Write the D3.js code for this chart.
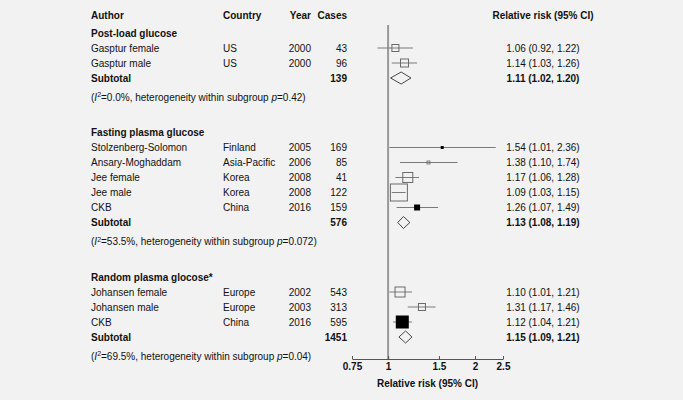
<!DOCTYPE html>
<html><head><meta charset="utf-8">
<script src="https://cdn.jsdelivr.net/npm/d3@7"></script>
<style>
html,body{margin:0;padding:0;background:#f2f2f2;}
svg{display:block;font-family:"Liberation Sans",Arial,sans-serif;}
</style></head>
<body>
<svg id="chart" width="683" height="400"></svg>
<script>
// ---- data ----
const groupNames = ["Post-load glucose", "Fasting plasma glucose", "Random plasma glocose*"];
const groupCases = [139, 576, 1451];
const groupEst = [1.11, 1.13, 1.15];
const groupLo = [1.02, 1.08, 1.09];
const groupHi = [1.20, 1.19, 1.21];
const groupI2 = ["0.0", "53.5", "69.5"];
const groupP = ["0.42", "0.072", "0.04"];

const studyGroup = [0, 0, 1, 1, 1, 1, 1, 2, 2, 2];
const authors = ["Gasptur female", "Gasptur male", "Stolzenberg-Solomon", "Ansary-Moghaddam", "Jee female", "Jee male", "CKB", "Johansen female", "Johansen male", "CKB"];
const countries = ["US", "US", "Finland", "Asia-Pacific", "Korea", "Korea", "China", "Europe", "Europe", "China"];
const years = [2000, 2000, 2005, 2006, 2008, 2008, 2016, 2002, 2003, 2016];
const cases = [43, 96, 169, 85, 41, 122, 159, 543, 313, 595];
const est = [1.06, 1.14, 1.54, 1.38, 1.17, 1.09, 1.26, 1.10, 1.31, 1.12];
const lo = [0.92, 1.03, 1.01, 1.10, 1.06, 1.03, 1.07, 1.01, 1.17, 1.04];
const hi = [1.22, 1.26, 2.36, 1.74, 1.28, 1.15, 1.49, 1.21, 1.46, 1.21];
const weights = [4.9, 6.4, 0.4, 0.9, 10, 28.9, 2.5, 10, 4.9, 14.4];
const filled = [false, false, true, false, false, false, true, false, false, true];
const tickValues = [0.75, 1, 1.5, 2, 2.5];

// ---- layout ----
const svg = d3.select("#chart");
const x = d3.scaleLog().domain([0.75, 2.5]).range([352, 503]);
const side = d3.scaleSqrt().domain([0, d3.max(weights)]).range([0, 17]);
const fmt = d3.format(".2f");
const colAuthor = 91, colCountry = 223, colYear = 311, colCases = 347, colRR = 543;
const fs = 10;

function txt(g, xx, yy, s, opts = {}) {
  return g.append("text").attr("x", xx).attr("y", yy).attr("dy", "0.35em")
    .attr("font-size", fs).attr("fill", "#111")
    .attr("font-weight", opts.bold ? "bold" : null)
    .attr("text-anchor", opts.anchor || "start").text(s);
}

// build rows with y positions
const rows = [];
let y = 15;
rows.push({type: "colhead", y});
groupNames.forEach((gname, gi) => {
  y += gi === 0 ? 18 : 35.5;
  rows.push({type: "ghead", gi, y});
  studyGroup.forEach((sg, i) => {
    if (sg === gi) { y += 15; rows.push({type: "study", i, y}); }
  });
  y += 15; rows.push({type: "sub", gi, y});
  y += 19; rows.push({type: "note", gi, y});
});

const g = svg.append("g");
const axisY = 359;

// reference line at 1
g.append("line").attr("x1", x(1)).attr("x2", x(1)).attr("y1", 25).attr("y2", axisY)
  .attr("stroke", "#9a9a9a").attr("stroke-width", 2);

rows.forEach(r => {
  if (r.type === "colhead") {
    txt(g, colAuthor, r.y, "Author", {bold: true});
    txt(g, colCountry, r.y, "Country", {bold: true});
    txt(g, colYear, r.y, "Year", {bold: true, anchor: "end"});
    txt(g, colCases, r.y, "Cases", {bold: true, anchor: "end"});
    txt(g, colRR, r.y, "Relative risk (95% CI)", {bold: true, anchor: "middle"});
  } else if (r.type === "ghead") {
    txt(g, colAuthor, r.y, groupNames[r.gi], {bold: true});
  } else if (r.type === "study") {
    const i = r.i;
    txt(g, colAuthor, r.y, authors[i]);
    txt(g, colCountry, r.y, countries[i]);
    txt(g, colYear, r.y, years[i], {anchor: "end"});
    txt(g, colCases, r.y, cases[i], {anchor: "end"});
    txt(g, colRR, r.y, `${fmt(est[i])} (${fmt(lo[i])}, ${fmt(hi[i])})`, {anchor: "middle"});
    g.append("line").attr("x1", x(lo[i])).attr("x2", x(hi[i])).attr("y1", r.y).attr("y2", r.y)
      .attr("stroke", "#7a7a7a").attr("stroke-width", 1);
    const s = side(weights[i]);
    if (filled[i]) {
      const sf = Math.max(s + 1, 2);
      g.append("rect").attr("x", x(est[i]) - sf / 2).attr("y", r.y - sf / 2)
        .attr("width", sf).attr("height", sf).attr("fill", "#000");
    } else {
      const sh = Math.max(s, 2.5);
      g.append("rect").attr("x", x(est[i]) - sh / 2).attr("y", r.y - sh / 2)
        .attr("width", sh).attr("height", sh)
        .attr("fill", "none").attr("stroke", "#6a6a6a").attr("stroke-width", sh < 4 ? 0.8 : 1);
    }
  } else if (r.type === "sub") {
    const gi = r.gi;
    txt(g, colAuthor, r.y, "Subtotal", {bold: true});
    txt(g, colCases, r.y, groupCases[gi], {bold: true, anchor: "end"});
    txt(g, colRR, r.y, `${fmt(groupEst[gi])} (${fmt(groupLo[gi])}, ${fmt(groupHi[gi])})`, {bold: true, anchor: "middle"});
    const h = 6;
    const pts = [[x(groupLo[gi]), r.y], [x(groupEst[gi]), r.y - h], [x(groupHi[gi]), r.y], [x(groupEst[gi]), r.y + h]];
    g.append("path").attr("d", "M" + pts.join("L") + "Z")
      .attr("fill", "none").attr("stroke", "#333").attr("stroke-width", 0.9);
  } else if (r.type === "note") {
    const gi = r.gi;
    const t = g.append("text").attr("x", colAuthor).attr("y", r.y).attr("dy", "0.35em")
      .attr("font-size", fs).attr("fill", "#111");
    t.append("tspan").text("(");
    t.append("tspan").attr("font-style", "italic").text("I");
    t.append("tspan").attr("font-size", 7).attr("dy", "-0.45em").text("2");
    t.append("tspan").attr("dy", "0.32em").text(`=${groupI2[gi]}%, heterogeneity within subgroup `);
    t.append("tspan").attr("font-style", "italic").text("p");
    t.append("tspan").text(`=${groupP[gi]})`);
  }
});

// axis
const axis = d3.axisBottom(x).tickValues(tickValues).tickFormat(d => String(d))
  .tickSizeInner(-3).tickSizeOuter(0).tickPadding(4);
const ag = svg.append("g").attr("transform", `translate(0,${axisY})`).call(axis);
ag.select(".domain").attr("stroke", "#555");
ag.selectAll(".tick line").attr("stroke", "#555");
ag.selectAll(".tick text").attr("font-size", fs).attr("font-weight", "bold")
  .attr("fill", "#111").attr("font-family", "Liberation Sans, Arial, sans-serif");
txt(svg, (x(0.75) + x(2.5)) / 2, 383, "Relative risk (95% CI)", {bold: true, anchor: "middle"});
</script>
</body></html>
